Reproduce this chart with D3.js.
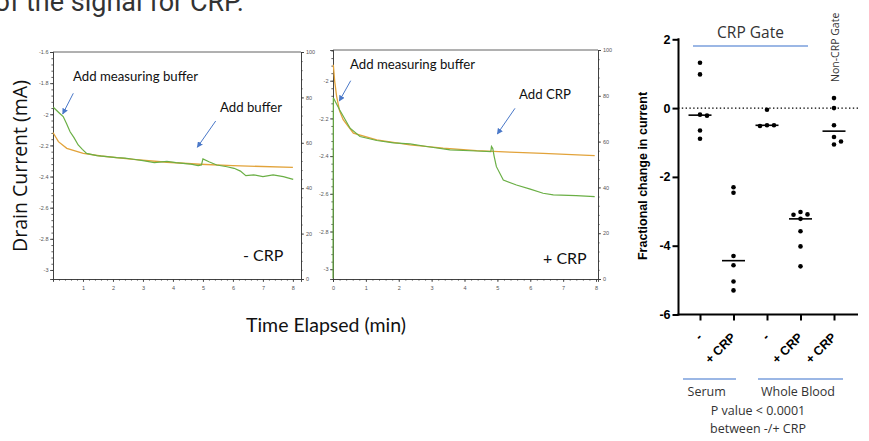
<!DOCTYPE html>
<html>
<head>
<meta charset="utf-8">
<script src="https://cdn.jsdelivr.net/npm/d3@7"></script>
<style>
  html, body { margin: 0; padding: 0; background: #fff; }
  svg { display: block; }
</style>
</head>
<body>
<svg id="chart" width="869" height="441"></svg>
<script>
// ---- trace data: [time (min), drain current (mA)] ----
var minusCrpGreen = [[0.01,-1.955],[0.2,-1.99],[0.34,-2.015],[0.45,-2.06],[0.57,-2.112],[0.7,-2.15],[0.84,-2.197],[0.98,-2.225],[1.12,-2.251],[1.46,-2.265],[1.8,-2.272],[2.12,-2.279],[2.4,-2.282],[2.68,-2.289],[3.0,-2.298],[3.38,-2.311],[3.8,-2.302],[4.1,-2.31],[4.34,-2.315],[4.6,-2.32],[4.84,-2.33],[4.95,-2.325],[5.0,-2.287],[5.2,-2.305],[5.46,-2.326],[5.8,-2.337],[6.04,-2.347],[6.25,-2.365],[6.43,-2.394],[6.7,-2.389],[7.0,-2.40],[7.34,-2.389],[7.68,-2.40],[8.01,-2.418]];
var minusCrpOrange = [[0.0,-2.118],[0.04,-2.13],[0.18,-2.176],[0.46,-2.219],[1.01,-2.251],[1.6,-2.268],[2.68,-2.289],[3.8,-2.308],[4.9,-2.321],[6.0,-2.33],[8.0,-2.341]];
var plusCrpGreen = [[0.0,-3.05],[0.01,-2.09],[0.2,-2.154],[0.52,-2.252],[0.82,-2.296],[1.33,-2.317],[1.84,-2.33],[2.34,-2.335],[2.85,-2.349],[3.56,-2.367],[4.37,-2.373],[4.8,-2.376],[4.82,-2.349],[4.86,-2.36],[4.9,-2.40],[4.97,-2.456],[5.18,-2.527],[5.58,-2.553],[6.0,-2.575],[6.39,-2.597],[6.7,-2.606],[7.4,-2.61],[7.96,-2.615]];
var plusCrpOrange = [[0.01,-1.915],[0.05,-2.0],[0.11,-2.083],[0.2,-2.16],[0.31,-2.207],[0.62,-2.278],[1.33,-2.314],[2.34,-2.34],[3.35,-2.358],[4.37,-2.371],[5.38,-2.379],[6.39,-2.386],[7.96,-2.397]];

var currentTicks = [-3, -2.8, -2.6, -2.4, -2.2, -2, -1.8, -1.6];
var percentTicks = [0, 20, 40, 60, 80, 100];

// ---- scatter data: fractional change in current ----
var groupNames = ["serumMinus", "serumPlus", "bloodMinus", "bloodPlus", "bloodNonGate"];
var groupLabels = ["-", "+ CRP", "-", "+ CRP", "+ CRP"];
var serumMinus = [1.32, 0.98, -0.19, -0.22, -0.65, -0.89];
var serumPlus = [-2.30, -2.46, -4.30, -4.57, -5.04, -5.30];
var bloodMinus = [-0.05, -0.50, -0.50, -0.52];
var bloodPlus = [-3.02, -3.09, -3.10, -3.22, -3.58, -4.02, -4.60];
var bloodNonGate = [0.29, 0.0, -0.50, -0.84, -0.97, -1.06];
var changeTicks = [-6, -4, -2, 0, 2];

var GREEN = '#6aaf45', ORANGE = '#e2a33a', ARROW = '#4a78c8', LINEBLUE = '#7a9fdc';

var svg = d3.select('#chart');
svg.append('rect').attr('width', 869).attr('height', 441).attr('fill', '#fff');

var defs = svg.append('defs');
defs.append('marker')
  .attr('id', 'arr')
  .attr('viewBox', '0 0 10 10')
  .attr('refX', 9).attr('refY', 5)
  .attr('markerWidth', 6).attr('markerHeight', 6)
  .attr('markerUnits', 'userSpaceOnUse')
  .attr('orient', 'auto')
  .append('path').attr('d', 'M0,0L10,5L0,10z').attr('fill', ARROW);

// slide text cut by the top edge, as in the source
svg.append('text')
  .attr('x', 244).attr('y', 11)
  .attr('text-anchor', 'end')
  .style('font-family', 'Roboto, "Open Sans", sans-serif')
  .style('font-size', '27px')
  .attr('fill', '#333')
  .text('of the signal for CRP.');

var fmt = function(d) { return String(+d.toFixed(1)); };

function drawTrace(cfg) {
  var x = d3.scaleLinear().domain(cfg.xDomain).range([cfg.left, cfg.right]);
  var y = d3.scaleLinear().domain(cfg.yDomain).range([cfg.bottom, cfg.top]);
  var yR = d3.scaleLinear().domain([0, 100]).range([cfg.bottom, cfg.top]);
  var g = svg.append('g');

  var minorY = d3.range(-3, -1.59, 0.04).filter(function(v){ return v >= cfg.yDomain[0] && v <= cfg.yDomain[1]; });
  var minorX = d3.range(0, 8.01, 0.2);
  var minorR = d3.range(0, 100.1, 4);

  function styleAxis(sel) {
    sel.selectAll('path, line').attr('stroke', '#3a3a3a').attr('stroke-width', 0.8);
    sel.selectAll('text')
      .style('font-family', '"Liberation Sans", Arial, sans-serif')
      .style('font-size', '5.5px').attr('fill', '#555');
  }

  // minor ticks
  g.append('g').attr('transform', 'translate(' + cfg.left + ',0)')
    .call(d3.axisLeft(y).tickValues(minorY).tickSize(1.6).tickFormat(''))
    .call(styleAxis);
  g.append('g').attr('transform', 'translate(0,' + cfg.bottom + ')')
    .call(d3.axisBottom(x).tickValues(minorX).tickSize(1.6).tickFormat(''))
    .call(styleAxis);
  g.append('g').attr('transform', 'translate(' + cfg.right + ',0)')
    .call(d3.axisRight(yR).tickValues(minorR).tickSize(1.6).tickFormat(''))
    .call(styleAxis);

  // major ticks
  g.append('g').attr('transform', 'translate(' + cfg.left + ',0)')
    .call(d3.axisLeft(y).tickValues(currentTicks.filter(function(v){ return v <= cfg.yDomain[1] + 1e-6; }))
      .tickSize(3).tickPadding(1.5).tickFormat(fmt))
    .call(styleAxis);
  g.append('g').attr('transform', 'translate(0,' + cfg.bottom + ')')
    .call(d3.axisBottom(x).tickValues(cfg.xTicks).tickSize(3).tickPadding(4).tickFormat(d3.format('d')))
    .call(styleAxis);
  g.append('g').attr('transform', 'translate(' + cfg.right + ',0)')
    .call(d3.axisRight(yR).tickValues(percentTicks).tickSize(3).tickPadding(2).tickFormat(d3.format('d')))
    .call(styleAxis);

  g.append('line')
    .attr('x1', cfg.left).attr('x2', cfg.right)
    .attr('y1', cfg.top).attr('y2', cfg.top)
    .attr('stroke', '#3a3a3a').attr('stroke-width', 0.8);

  var line = d3.line()
    .x(function(d){ return x(d[0]); })
    .y(function(d){ return y(d[1]); });

  g.append('path').datum(cfg.orange).attr('d', line)
    .attr('fill', 'none').attr('stroke', ORANGE).attr('stroke-width', 1.3);
  g.append('path').datum(cfg.green).attr('d', line)
    .attr('fill', 'none').attr('stroke', GREEN).attr('stroke-width', 1.2);

  cfg.notes.forEach(function(n) {
    g.append('text')
      .attr('x', n.x).attr('y', n.y)
      .style('font-family', 'Lato, "Open Sans", sans-serif')
      .style('font-size', n.size + 'px')
      .attr('fill', '#111')
      .text(n.text);
    if (n.arrow) {
      g.append('line')
        .attr('x1', n.arrow[0]).attr('y1', n.arrow[1])
        .attr('x2', n.arrow[2]).attr('y2', n.arrow[3])
        .attr('stroke', ARROW).attr('stroke-width', 1)
        .attr('marker-end', 'url(#arr)');
    }
  });
}

drawTrace({
  left: 53, right: 301, top: 52, bottom: 279,
  xDomain: [0, 8.27], yDomain: [-3.058, -1.6],
  xTicks: [1, 2, 3, 4, 5, 6, 7, 8],
  green: minusCrpGreen, orange: minusCrpOrange,
  notes: [
    { text: 'Add measuring buffer', x: 73, y: 80.5, size: 13.2, arrow: [73.3, 93.3, 62.7, 114] },
    { text: 'Add buffer', x: 220, y: 111.5, size: 13.2, arrow: [215.7, 121, 197.3, 147.3] },
    { text: '- CRP', x: 243, y: 260.5, size: 16 }
  ]
});

drawTrace({
  left: 333, right: 598, top: 50, bottom: 279,
  xDomain: [0, 8.06], yDomain: [-3.052, -1.837],
  xTicks: [0, 1, 2, 3, 4, 5, 6, 7, 8],
  green: plusCrpGreen, orange: plusCrpOrange,
  notes: [
    { text: 'Add measuring buffer', x: 350, y: 69, size: 13.2, arrow: [350.7, 80.7, 339.3, 101] },
    { text: 'Add CRP', x: 519, y: 99, size: 13.2, arrow: [515, 108.3, 497.3, 134] },
    { text: '+ CRP', x: 543, y: 264, size: 16 }
  ]
});

svg.append('text')
  .attr('transform', 'translate(27,166) rotate(-90)')
  .attr('text-anchor', 'middle')
  .style('font-family', '"Open Sans", sans-serif')
  .style('font-size', '19.5px')
  .attr('fill', '#111')
  .text('Drain Current (mA)');

svg.append('text')
  .attr('x', 326).attr('y', 332)
  .attr('text-anchor', 'middle')
  .style('font-family', 'Lato, "Open Sans", sans-serif')
  .style('font-size', '19.5px')
  .attr('fill', '#111')
  .text('Time Elapsed (min)');

// ---- scatter plot ----
var groups = {
  serumMinus: serumMinus, serumPlus: serumPlus, bloodMinus: bloodMinus,
  bloodPlus: bloodPlus, bloodNonGate: bloodNonGate
};
var sx = d3.scalePoint().domain(groupNames).range([700, 834]);
var sy = d3.scaleLinear().domain([-6, 2]).range([314.5, 39.3]);
var sg = svg.append('g');
var bold = '"Liberation Sans", Arial, sans-serif';

sg.append('line')
  .attr('x1', 678).attr('x2', 858)
  .attr('y1', sy(0)).attr('y2', sy(0))
  .attr('stroke', '#000').attr('stroke-width', 1.4)
  .attr('stroke-dasharray', '1.4,2.4');

var yAxis = sg.append('g').attr('transform', 'translate(678.5,0)')
  .call(d3.axisLeft(sy).tickValues(changeTicks).tickSize(6).tickPadding(2)
    .tickFormat(function(d){ return String(d); }));
yAxis.select('.domain').remove();
yAxis.selectAll('line').attr('stroke', '#000').attr('stroke-width', 2);
yAxis.selectAll('text')
  .style('font-family', bold).style('font-size', '12.5px').style('font-weight', 'bold').attr('fill', '#000');
sg.append('line')
  .attr('x1', 678.5).attr('x2', 678.5).attr('y1', sy(2) - 1).attr('y2', sy(-6) + 1)
  .attr('stroke', '#000').attr('stroke-width', 2);

var xAxis = sg.append('g').attr('transform', 'translate(0,' + sy(-6) + ')')
  .call(d3.axisBottom(sx).tickSize(6).tickFormat(''));
xAxis.select('.domain').remove();
xAxis.selectAll('line').attr('stroke', '#000').attr('stroke-width', 2);
sg.append('line')
  .attr('x1', 677.5).attr('x2', 858).attr('y1', sy(-6)).attr('y2', sy(-6))
  .attr('stroke', '#000').attr('stroke-width', 2);

groupNames.forEach(function(name, i) {
  sg.append('text')
    .attr('transform', 'translate(' + (sx(name) + 3) + ',338) rotate(-45)')
    .attr('text-anchor', 'end')
    .style('font-family', bold).style('font-size', '12.5px').style('font-weight', 'bold')
    .attr('fill', '#000')
    .text(groupLabels[i]);
});

// simple beeswarm so equal values sit side by side
function swarm(values, cx) {
  var placed = [];
  var sorted = values.slice().sort(function(a, b){ return b - a; });
  var offs = [0, 7, -7, 14, -14];
  sorted.forEach(function(v) {
    var py = sy(v);
    for (var k = 0; k < offs.length; k++) {
      var hit = placed.some(function(p) {
        var dx = p.x - (cx + offs[k]), dy = p.y - py;
        return dx * dx + dy * dy < 30;
      });
      if (!hit) { placed.push({ x: cx + offs[k], y: py }); break; }
    }
  });
  return placed;
}

groupNames.forEach(function(name) {
  var vals = groups[name];
  var cx = sx(name);
  sg.append('g').selectAll('circle')
    .data(swarm(vals, cx))
    .enter().append('circle')
    .attr('cx', function(d){ return d.x; })
    .attr('cy', function(d){ return d.y; })
    .attr('r', 2.3)
    .attr('fill', '#000');
  var m = d3.median(vals);
  sg.append('line')
    .attr('x1', cx - 11.5).attr('x2', cx + 11.5)
    .attr('y1', sy(m)).attr('y2', sy(m))
    .attr('stroke', '#000').attr('stroke-width', 1.6);
});

sg.append('text')
  .attr('transform', 'translate(643,176) rotate(-90)')
  .attr('text-anchor', 'middle')
  .attr('dy', '0.35em')
  .style('font-family', bold).style('font-size', '12.5px').style('font-weight', 'bold')
  .attr('fill', '#000')
  .text('Fractional change in current');

var soft = '"Open Sans", "Noto Sans", sans-serif';
sg.append('text')
  .attr('x', 750.5).attr('y', 37.5).attr('text-anchor', 'middle')
  .style('font-family', soft).style('font-size', '15.5px').attr('fill', '#333')
  .text('CRP Gate');
sg.append('line')
  .attr('x1', 693).attr('x2', 808).attr('y1', 46).attr('y2', 46)
  .attr('stroke', LINEBLUE).attr('stroke-width', 1.3);

sg.append('text')
  .attr('transform', 'translate(839,82) rotate(-90)')
  .style('font-family', soft).style('font-size', '10.5px').attr('fill', '#333')
  .text('Non-CRP Gate');

sg.append('line')
  .attr('x1', 683).attr('x2', 736).attr('y1', 379).attr('y2', 379)
  .attr('stroke', LINEBLUE).attr('stroke-width', 1.3);
sg.append('line')
  .attr('x1', 758).attr('x2', 843).attr('y1', 379).attr('y2', 379)
  .attr('stroke', LINEBLUE).attr('stroke-width', 1.3);

var foot = [
  { text: 'Serum', x: 706.7, y: 396 },
  { text: 'Whole Blood', x: 798, y: 396 },
  { text: 'P value < 0.0001', x: 758, y: 415 },
  { text: 'between -/+ CRP', x: 758, y: 433 }
];
foot.forEach(function(f) {
  sg.append('text')
    .attr('x', f.x).attr('y', f.y).attr('text-anchor', 'middle')
    .style('font-family', soft).style('font-size', '12.5px').attr('fill', '#333')
    .text(f.text);
});
</script>
</body>
</html>
